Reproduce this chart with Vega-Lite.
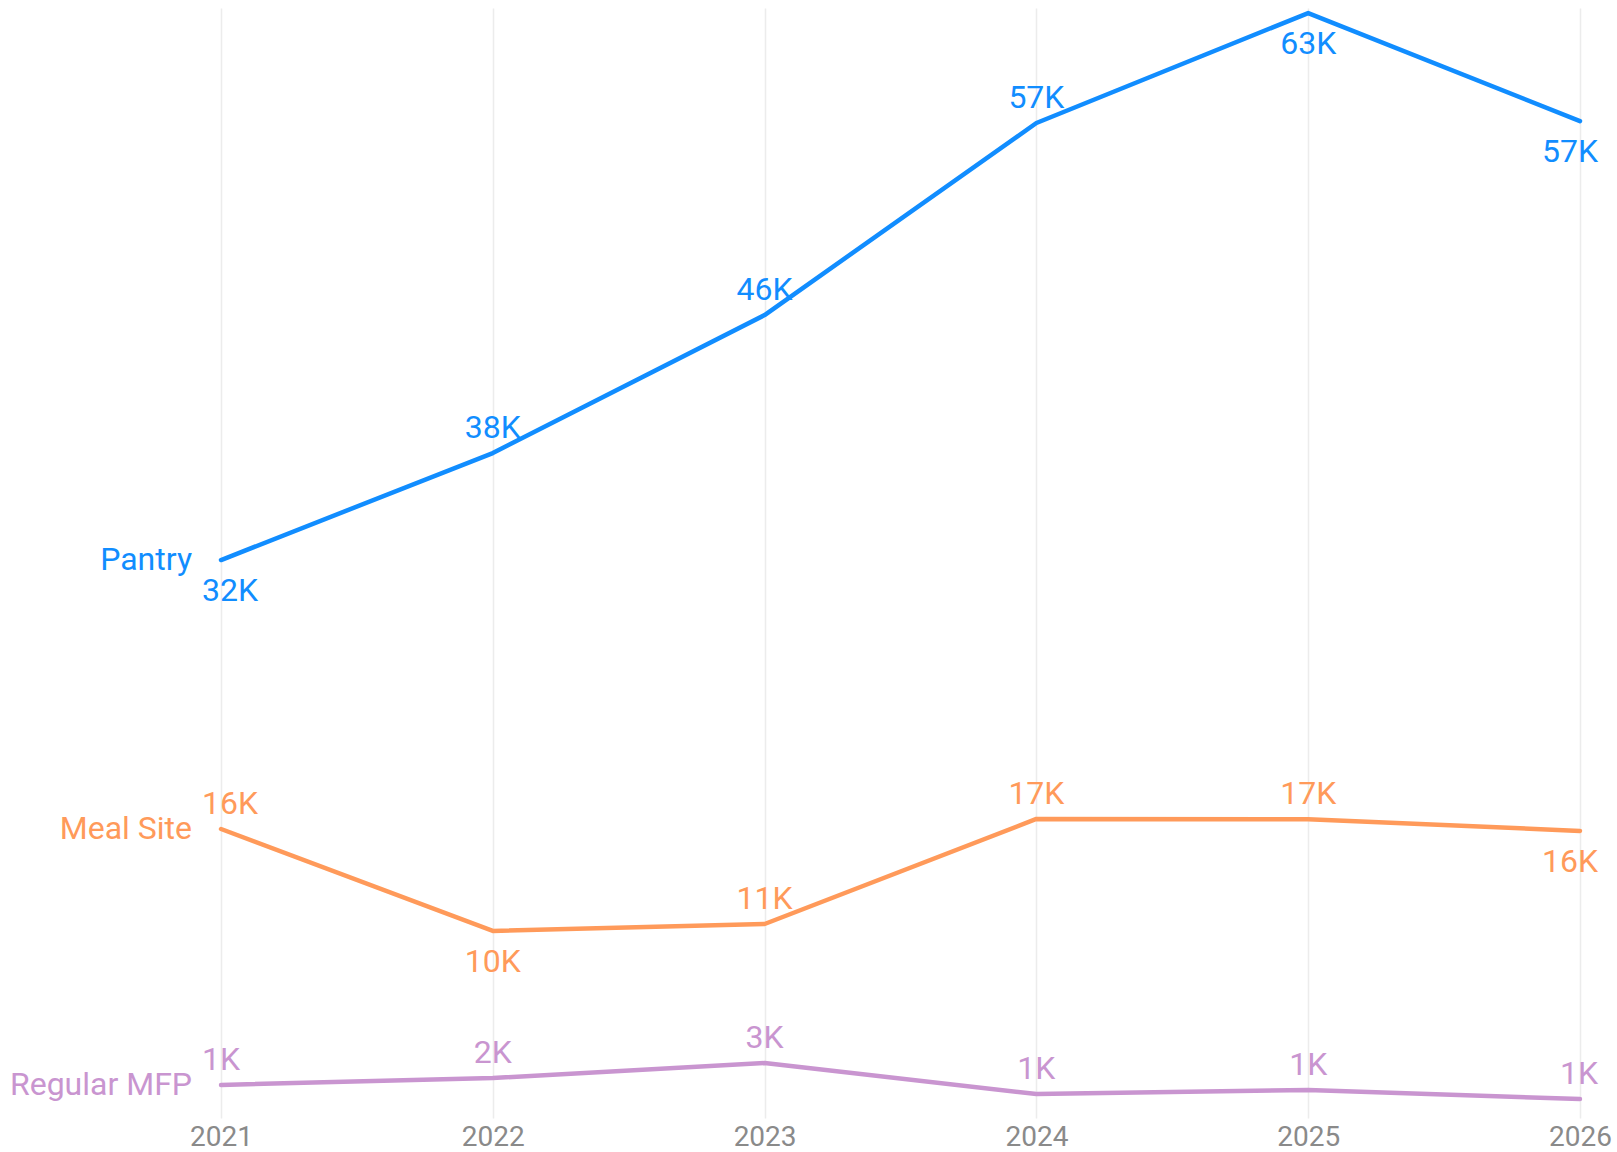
{
  "$schema": "https://vega.github.io/schema/vega-lite/v6.json",
  "width": 1397,
  "height": 1110,
  "autosize": "none",
  "padding": {"left": 202, "top": 8, "right": 18, "bottom": 34},
  "background": "white",
  "config": {"view": {"stroke": null}},
  "data": {
    "values": [
      {"series": "Pantry", "year": 2021, "value": 31550},
      {"series": "Pantry", "year": 2022, "value": 37700},
      {"series": "Pantry", "year": 2023, "value": 45630},
      {"series": "Pantry", "year": 2024, "value": 56670},
      {"series": "Pantry", "year": 2025, "value": 62990},
      {"series": "Pantry", "year": 2026, "value": 56780},
      {"series": "Meal Site", "year": 2021, "value": 16090},
      {"series": "Meal Site", "year": 2022, "value": 10230},
      {"series": "Meal Site", "year": 2023, "value": 10630},
      {"series": "Meal Site", "year": 2024, "value": 16670},
      {"series": "Meal Site", "year": 2025, "value": 16650},
      {"series": "Meal Site", "year": 2026, "value": 15980},
      {"series": "Regular MFP", "year": 2021, "value": 1380},
      {"series": "Regular MFP", "year": 2022, "value": 1780},
      {"series": "Regular MFP", "year": 2023, "value": 2640},
      {"series": "Regular MFP", "year": 2024, "value": 860},
      {"series": "Regular MFP", "year": 2025, "value": 1090},
      {"series": "Regular MFP", "year": 2026, "value": 570}
    ]
  },
  "encoding": {
    "x": {
      "field": "year",
      "type": "ordinal",
      "scale": {"type": "point", "padding": 0.07},
      "axis": {
        "title": null,
        "domain": false,
        "ticks": false,
        "grid": true,
        "gridColor": "#ececec",
        "gridWidth": 1.5,
        "labelFont": "Roboto",
        "labelFontSize": 28,
        "labelColor": "#8a8a8a",
        "labelPadding": 5,
        "labelAngle": 0,
        "labelOverlap": false
      }
    },
    "y": {
      "field": "value",
      "type": "quantitative",
      "scale": {"domain": [-520, 63280], "nice": false, "zero": false},
      "axis": null
    },
    "color": {
      "field": "series",
      "type": "nominal",
      "scale": {
        "domain": ["Pantry", "Meal Site", "Regular MFP"],
        "range": ["#118DFF", "#FF9A5A", "#C995D0"]
      },
      "legend": null
    }
  },
  "layer": [
    {"mark": {"type": "line", "strokeWidth": 4.5, "strokeCap": "round", "strokeJoin": "round"}},
    {
      "transform": [
        {"filter": "!((datum.series=='Pantry' && (datum.year==2021||datum.year==2025||datum.year==2026)) || (datum.series=='Meal Site' && (datum.year==2022||datum.year==2026)))"},
        {"calculate": "format(datum.value/1000, '.0f') + 'K'", "as": "label"}
      ],
      "mark": {
        "type": "text",
        "font": "Roboto",
        "fontSize": 32,
        "baseline": "alphabetic",
        "dy": -15,
        "align": {"expr": "datum.year == 2021 ? 'left' : datum.year == 2026 ? 'right' : 'center'"},
        "dx": {"expr": "datum.year == 2021 ? -19 : datum.year == 2026 ? 18 : 0"}
      },
      "encoding": {"text": {"field": "label"}}
    },
    {
      "transform": [
        {"filter": "(datum.series=='Pantry' && (datum.year==2021||datum.year==2025||datum.year==2026)) || (datum.series=='Meal Site' && (datum.year==2022||datum.year==2026))"},
        {"calculate": "format(datum.value/1000, '.0f') + 'K'", "as": "label"}
      ],
      "mark": {
        "type": "text",
        "font": "Roboto",
        "fontSize": 32,
        "baseline": "alphabetic",
        "dy": 41,
        "align": {"expr": "datum.year == 2021 ? 'left' : datum.year == 2026 ? 'right' : 'center'"},
        "dx": {"expr": "datum.year == 2021 ? -19 : datum.year == 2026 ? 18 : 0"}
      },
      "encoding": {"text": {"field": "label"}}
    },
    {
      "transform": [{"filter": "datum.year == 2021"}],
      "mark": {
        "type": "text",
        "font": "Roboto",
        "fontSize": 32,
        "baseline": "alphabetic",
        "align": "right",
        "dx": -29,
        "dy": 10
      },
      "encoding": {"text": {"field": "series"}}
    }
  ]
}
